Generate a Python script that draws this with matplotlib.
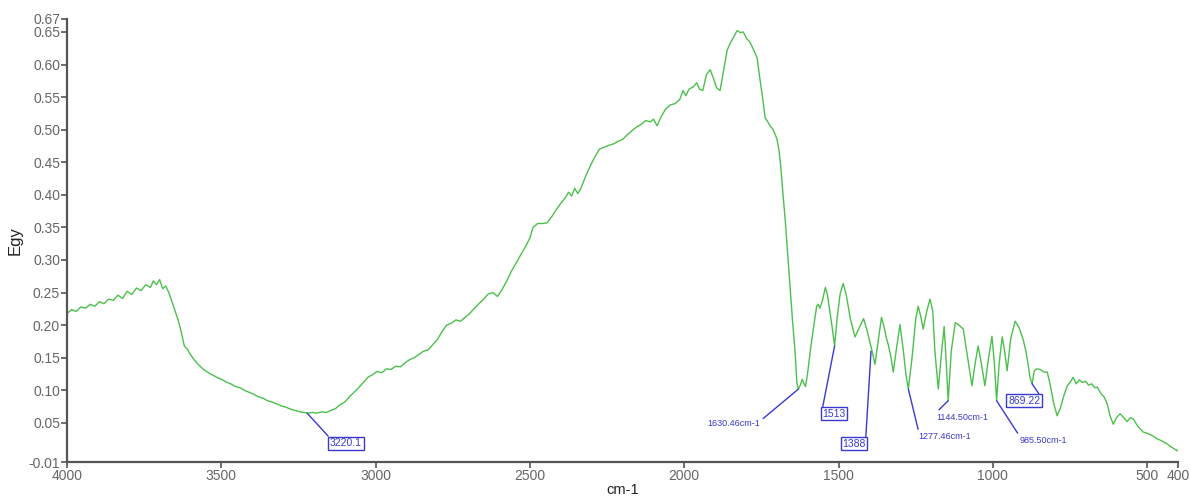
import matplotlib.pyplot as plt

# spectrum (wavenumber cm-1, Egy)
wn = [4000, 3985, 3970, 3955, 3940, 3925, 3910, 3895, 3880, 3865, 3850, 3835, 3820, 3805, 3790,
      3775, 3760, 3745, 3730, 3720, 3710, 3700, 3690, 3680, 3670, 3660, 3650, 3640, 3630, 3620,
      3610, 3600, 3590, 3575, 3560, 3545, 3530, 3515, 3500, 3485, 3470, 3455, 3440, 3425, 3410,
      3395, 3380, 3365, 3350, 3335, 3320, 3305, 3290, 3275, 3260, 3245, 3230, 3220, 3205, 3190,
      3175, 3160, 3145, 3130, 3115, 3100, 3085, 3070, 3055, 3040, 3025, 3010, 2995, 2980, 2965,
      2950, 2935, 2920, 2905, 2890, 2875, 2860, 2845, 2830, 2815, 2800, 2785, 2770, 2755, 2740,
      2725, 2710, 2695, 2680, 2665, 2650, 2635, 2620, 2605, 2590, 2575, 2560, 2545, 2530, 2515,
      2500, 2490, 2475, 2460, 2445, 2430, 2415, 2400, 2385, 2375, 2365, 2355, 2345, 2335, 2320,
      2305, 2290, 2275, 2260, 2245, 2230, 2215, 2200, 2185, 2170, 2155, 2140, 2125, 2110, 2100,
      2088, 2075, 2060, 2045, 2030, 2015, 2004, 1995, 1985, 1970, 1960, 1950, 1940, 1928, 1916,
      1905, 1895, 1884, 1872, 1861, 1850, 1840, 1829, 1818, 1809, 1798, 1787, 1775, 1764, 1755,
      1745, 1738, 1732, 1722, 1712, 1700, 1693, 1688, 1680, 1673, 1665, 1657, 1649, 1641, 1635,
      1630, 1624, 1618, 1612, 1607, 1600, 1592, 1582, 1571, 1566, 1561, 1552, 1543, 1536, 1528,
      1520, 1513, 1505, 1495, 1485, 1475, 1462, 1447, 1433, 1419, 1408, 1393, 1382, 1372, 1361,
      1352, 1345, 1339, 1330, 1323, 1312, 1301, 1290, 1282, 1274, 1262, 1250, 1242, 1234, 1226,
      1215, 1204, 1195, 1188, 1177, 1168, 1158, 1152, 1145, 1135, 1122, 1110, 1096, 1082, 1068,
      1058, 1048, 1037, 1026, 1014, 1003, 995, 988, 980, 970, 962, 954, 942, 928, 915,
      902, 893, 885, 880, 873, 866, 858, 846, 835, 824, 815, 803, 792, 782, 770,
      759, 750, 740, 730, 720, 710, 700, 690, 680, 670, 662, 650, 640, 630, 620,
      610, 600, 588, 576, 565, 555, 545, 535, 525, 513, 500, 490, 481, 470, 460,
      448, 436, 425, 412, 400]
egy = [0.218, 0.224, 0.221, 0.228, 0.226, 0.232, 0.229, 0.236, 0.233, 0.240, 0.238, 0.246, 0.241, 0.252, 0.247,
       0.257, 0.253, 0.262, 0.258, 0.268, 0.262, 0.270, 0.256, 0.260, 0.250, 0.236, 0.222, 0.208, 0.190, 0.168,
       0.163, 0.155, 0.148, 0.140, 0.133, 0.128, 0.124, 0.120, 0.117, 0.113, 0.110, 0.106, 0.104, 0.100, 0.097,
       0.094, 0.090, 0.088, 0.084, 0.082, 0.079, 0.076, 0.074, 0.071, 0.069, 0.067, 0.066, 0.065, 0.066, 0.065,
       0.067, 0.066, 0.069, 0.072, 0.078, 0.082, 0.090, 0.097, 0.104, 0.112, 0.120, 0.124, 0.129, 0.127, 0.133,
       0.132, 0.137, 0.136, 0.142, 0.147, 0.150, 0.155, 0.160, 0.162, 0.170, 0.178, 0.190, 0.200, 0.203, 0.208,
       0.206, 0.212, 0.218, 0.226, 0.233, 0.240, 0.248, 0.250, 0.244, 0.255, 0.268, 0.283, 0.295, 0.308, 0.320,
       0.334, 0.350, 0.356, 0.356, 0.357, 0.366, 0.377, 0.387, 0.396, 0.404, 0.398, 0.410, 0.402, 0.410, 0.428,
       0.444, 0.458, 0.470, 0.473, 0.476, 0.478, 0.482, 0.485, 0.492, 0.498, 0.504, 0.508, 0.514, 0.512, 0.516,
       0.506, 0.520, 0.532, 0.538, 0.540, 0.546, 0.560, 0.552, 0.562, 0.566, 0.572, 0.562, 0.560, 0.585, 0.592,
       0.578, 0.564, 0.560, 0.592, 0.622, 0.634, 0.642, 0.652, 0.649, 0.650, 0.640, 0.634, 0.622, 0.610, 0.578,
       0.545, 0.518, 0.514, 0.506, 0.500, 0.486, 0.468, 0.446, 0.400, 0.362, 0.310, 0.259, 0.205, 0.159, 0.110,
       0.102, 0.108, 0.117, 0.110, 0.106, 0.128, 0.159, 0.194, 0.229, 0.232, 0.226, 0.238, 0.258, 0.246, 0.220,
       0.194, 0.168, 0.210, 0.248, 0.264, 0.246, 0.210, 0.182, 0.196, 0.210, 0.192, 0.163, 0.140, 0.175, 0.212,
       0.196, 0.180, 0.170, 0.150, 0.128, 0.166, 0.201, 0.160, 0.125, 0.102, 0.150, 0.210, 0.229, 0.214, 0.194,
       0.220, 0.240, 0.222, 0.160, 0.102, 0.150, 0.198, 0.150, 0.084, 0.160, 0.204, 0.200, 0.194, 0.150, 0.107,
       0.140, 0.168, 0.140, 0.107, 0.150, 0.183, 0.140, 0.084, 0.140, 0.182, 0.160, 0.130, 0.180, 0.206, 0.196,
       0.178, 0.160, 0.137, 0.120, 0.110, 0.130, 0.133, 0.132, 0.128, 0.128, 0.110, 0.080, 0.061, 0.072, 0.092,
       0.107, 0.112, 0.120, 0.110, 0.116, 0.112, 0.114, 0.108, 0.110, 0.104, 0.105, 0.095, 0.090, 0.080, 0.060,
       0.048, 0.058, 0.064, 0.058, 0.052, 0.058, 0.056, 0.048, 0.042, 0.036, 0.034, 0.032, 0.030, 0.026, 0.024,
       0.021, 0.018, 0.014, 0.010, 0.007]

# peak labels: text, peak position, label position, boxed, line anchor on label
peak_text = ['3220.1', '1630.46cm-1', '1513', '1388', '1277.46cm-1', '1144.50cm-1', '985.50cm-1', '869.22']
peak_xy = [(3222, 0.065), (1630, 0.102), (1513, 0.168), (1395, 0.160),
           (1274, 0.102), (1145, 0.084), (988, 0.084), (873, 0.110)]
label_xy = [(3096, 0.019), (1839, 0.049), (1515, 0.064), (1450, 0.018),
            (1155, 0.029), (1100, 0.059), (837, 0.023), (899, 0.084)]
boxed = [True, False, True, True, False, False, False, True]
anchor = [(0, 1), (1, 0.8), (0, 1), (1, 1), (0, 1), (0, 1), (0, 1), (1, 1)]

xticks = [4000, 3500, 3000, 2500, 2000, 1500, 1000, 500, 400]
yticks = [-0.01, 0.05, 0.10, 0.15, 0.20, 0.25, 0.30, 0.35, 0.40, 0.45, 0.50, 0.55, 0.60, 0.65, 0.67]

plt.rcParams['font.family'] = ['Liberation Sans Narrow', 'Liberation Sans', 'DejaVu Sans']

fig = plt.figure(figsize=(11.9, 4.97), dpi=100)
ax = fig.add_axes([0.0563, 0.0704, 0.9337, 0.8916])

ax.plot(wn, egy, color='#4cc04c', lw=1.0)

blue = '#3a3ad0'
for t, p, l, b, r in zip(peak_text, peak_xy, label_xy, boxed, anchor):
    box = dict(boxstyle='square,pad=0.15', fc='white', ec=blue, lw=1.0) if b else None
    ax.annotate(t, xy=p, xytext=l, textcoords='data', ha='center', va='center',
                fontsize=7.5 if b else 6.5, color=blue, bbox=box,
                arrowprops=dict(arrowstyle='-', color=blue, lw=1.0, relpos=r,
                                shrinkA=0, shrinkB=0))

ax.set_xlim(4000, 400)
ax.set_ylim(-0.01, 0.67)
ax.set_xticks(xticks)
ax.set_xticklabels([str(v) for v in xticks])
ax.set_yticks(yticks)
ax.set_yticklabels(['%.2f' % v for v in yticks])

for s in ['top', 'right']:
    ax.spines[s].set_visible(False)
for s in ['left', 'bottom']:
    ax.spines[s].set_color('#555555')
    ax.spines[s].set_linewidth(1.6)
ax.tick_params(axis='both', colors='#555555', labelcolor='#666666', labelsize=10,
               length=4, width=1.2, pad=1)

ax.set_xlabel('cm-1', fontsize=10.5, color='#222222', labelpad=0)
ax.set_ylabel('Egy', fontsize=12, color='#222222', labelpad=4)

fig.savefig('out.png', dpi=100)
